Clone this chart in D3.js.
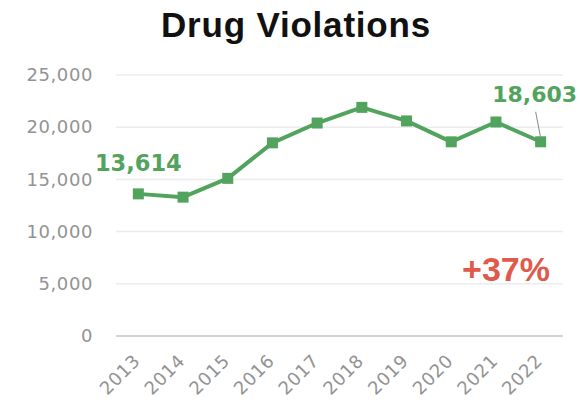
<!DOCTYPE html>
<html><head><meta charset="utf-8">
<script src="https://cdn.jsdelivr.net/npm/d3@7"></script>
<style>body{margin:0;background:#fff}svg{display:block}</style>
</head><body>
<svg id="c" width="580" height="405"></svg>
<script>
const years = ["2013","2014","2015","2016","2017","2018","2019","2020","2021","2022"];
const violations = [13614, 13300, 15100, 18500, 20400, 21900, 20600, 18600, 20500, 18603];
const yTicks = [0, 5000, 10000, 15000, 20000, 25000];
const title = "Drug Violations";
const changeLabel = "+37%";

const green = "#52a35d", red = "#e05a4c", gray = "#939393";
const svg = d3.select("#c");
const x = d3.scalePoint().domain(years).range([116, 563]).padding(0.5);
const y = d3.scaleLinear().domain([0, 25000]).range([336, 75]);
const fmt = d3.format(",");

svg.append("text").attr("x", 296).attr("y", 37).attr("text-anchor", "middle")
  .style("font-family", "Liberation Sans, Arial, sans-serif").style("font-weight", "bold")
  .style("font-size", "35px").style("letter-spacing", "0.8px").attr("fill", "#111").text(title);

// grid
svg.append("g").selectAll("line").data(yTicks).join("line")
  .attr("x1", 116).attr("x2", 563).attr("y1", d => y(d)).attr("y2", d => y(d))
  .attr("stroke", d => d === 0 ? "#d2d2d2" : "#ececec").attr("stroke-width", d => d === 0 ? 2 : 1.5);

// y axis labels
const yAxis = d3.axisLeft(y).tickValues(yTicks).tickFormat(fmt).tickSize(0).tickPadding(0);
const ya = svg.append("g").attr("transform", "translate(93,0)").call(yAxis);
ya.select(".domain").remove();
ya.selectAll("text").attr("fill", gray).style("font-family", "DejaVu Sans, sans-serif")
  .style("font-size", "18px").style("letter-spacing", "0.6px");

// x axis labels
const xAxis = d3.axisBottom(x).tickSize(0).tickPadding(0);
const xa = svg.append("g").call(xAxis);
xa.select(".domain").remove();
xa.selectAll(".tick").attr("transform", d => `translate(${x(d) + 3},362)`);
xa.selectAll("text").attr("fill", gray).attr("y", 0).attr("dy", 0)
  .attr("transform", "rotate(-45)").attr("text-anchor", "end")
  .style("font-family", "DejaVu Sans, sans-serif").style("font-size", "18px").style("letter-spacing", "0.6px");

// line
const line = d3.line().x((d, i) => x(years[i])).y(d => y(d));
svg.append("path").datum(violations).attr("d", line).attr("fill", "none")
  .attr("stroke", green).attr("stroke-width", 4).attr("stroke-linejoin", "round");
svg.append("g").selectAll("rect").data(violations).join("rect")
  .attr("x", (d, i) => x(years[i]) - 5.5).attr("y", d => y(d) - 5.5)
  .attr("width", 11).attr("height", 11).attr("fill", green);

// labels
const first = violations[0], last = violations[violations.length - 1];
svg.append("text").attr("x", x(years[0])).attr("y", y(first) - 23).attr("text-anchor", "middle")
  .style("font-family", "DejaVu Sans, sans-serif").style("font-weight", "bold").style("font-size", "22.5px")
  .attr("fill", green).text(fmt(first));
const lx = x(years[years.length - 1]);
svg.append("line").attr("x1", lx - 5).attr("y1", y(last) - 30).attr("x2", lx).attr("y2", y(last) - 4)
  .attr("stroke", "#888").attr("stroke-width", 1);
svg.append("text").attr("x", lx - 6).attr("y", y(last) - 40).attr("text-anchor", "middle")
  .style("font-family", "DejaVu Sans, sans-serif").style("font-weight", "bold").style("font-size", "22px")
  .attr("fill", green).text(fmt(last));

svg.append("text").attr("x", 506).attr("y", 281).attr("text-anchor", "middle")
  .style("font-family", "Liberation Sans, Arial, sans-serif").style("font-weight", "bold").style("font-size", "34px")
  .attr("fill", red).text(changeLabel);
</script>
</body></html>
